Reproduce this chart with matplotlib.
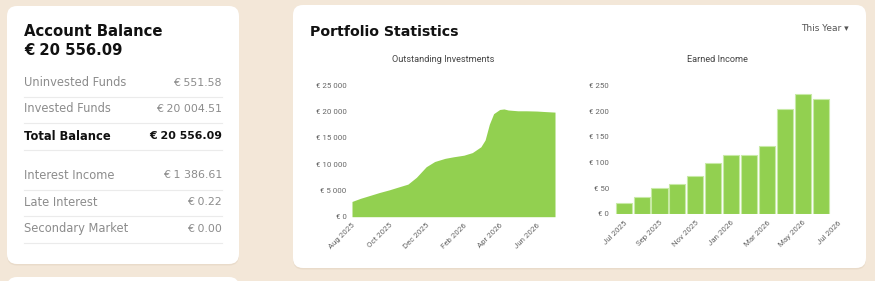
import matplotlib
matplotlib.use("Agg")
import matplotlib.pyplot as plt
import matplotlib.dates as mdates
from matplotlib.patches import FancyBboxPatch
import pandas as pd

# --- data ---
balance_title = "Account Balance"
balance_total = "€ 20 556.09"
row_labels = ["Uninvested Funds", "Invested Funds", "Total Balance",
              "Interest Income", "Late Interest", "Secondary Market"]
row_values = ["€ 551.58", "€ 20 004.51", "€ 20 556.09",
              "€ 1 386.61", "€ 0.22", "€ 0.00"]
row_bold = [False, False, True, False, False, False]

inv_dates = ["2025-08-01", "2025-08-15", "2025-09-01", "2025-09-15", "2025-10-01",
             "2025-10-15", "2025-11-01", "2025-11-15", "2025-12-01", "2025-12-15",
             "2026-01-01", "2026-01-15", "2026-02-01", "2026-02-15", "2026-03-01",
             "2026-03-08", "2026-03-15", "2026-03-22", "2026-04-01", "2026-04-08",
             "2026-04-15", "2026-05-01", "2026-05-15", "2026-06-01", "2026-06-15",
             "2026-07-01"]
inv_values = [2900, 3500, 4100, 4600, 5100,
              5600, 6200, 7500, 9500, 10500,
              11100, 11400, 11700, 12200, 13300,
              14600, 17600, 19600, 20400, 20500,
              20300, 20150, 20150, 20100, 20000,
              19900]
inv_ticks = ["2025-08-01", "2025-10-01", "2025-12-01", "2026-02-01", "2026-04-01", "2026-06-01"]
inv_yticks = [0, 5000, 10000, 15000, 20000, 25000]
inv_ylabels = ["€ 0", "€ 5 000", "€ 10 000", "€ 15 000", "€ 20 000", "€ 25 000"]

inc_months = ["Jul 2025", "Aug 2025", "Sep 2025", "Oct 2025", "Nov 2025", "Dec 2025",
              "Jan 2026", "Feb 2026", "Mar 2026", "Apr 2026", "May 2026", "Jun 2026"]
inc_values = [21, 33, 50, 58, 74, 100, 115, 115, 133, 203, 233, 223]
inc_tick_labels = ["Jul 2025", "Sep 2025", "Nov 2025", "Jan 2026", "Mar 2026", "May 2026", "Jul 2026"]
inc_yticks = [0, 50, 100, 150, 200, 250]
inc_ylabels = ["€ 0", "€ 50", "€ 100", "€ 150", "€ 200", "€ 250"]

W, H = 875, 281
GREEN = "#92d050"
EDGE = "#c8eaa6"
BG = "#f3e7d8"
TICK_COL = "#666666"

fig = plt.figure(figsize=(W / 100, H / 100), dpi=100)
fig.patch.set_facecolor(BG)

# background axes in pixel coordinates
bg = fig.add_axes([0, 0, 1, 1])
bg.set_xlim(0, W)
bg.set_ylim(H, 0)
bg.axis("off")

def card(x0, y0, x1, y1):
    sh = FancyBboxPatch((x0, y0 + 1.5), x1 - x0, y1 - y0, boxstyle="round,pad=0,rounding_size=10",
                        fc="#e3d4c1", ec="none", alpha=0.6, zorder=1)
    bg.add_patch(sh)
    p = FancyBboxPatch((x0, y0), x1 - x0, y1 - y0, boxstyle="round,pad=0,rounding_size=10",
                       fc="white", ec="none", zorder=2)
    bg.add_patch(p)

card(7, 6, 239, 264)
card(7, 277, 239, 320)
card(293, 5, 866, 268)

# left card text
bg.text(24, 32, balance_title, fontsize=10.7, fontweight="bold", color="#111111",
        va="center", ha="left", zorder=3)
bg.text(24, 50.5, balance_total, fontsize=10.7, fontweight="bold", color="#111111",
        va="center", ha="left", zorder=3)

row_y = [82.5, 109, 136, 175.5, 202, 228.5]
for lab, val, b, y in zip(row_labels, row_values, row_bold, row_y):
    col = "#111111" if b else "#8c8c8c"
    fw = "bold" if b else "normal"
    bg.text(24, y, lab, fontsize=8.3, color=col, fontweight=fw, va="center", ha="left", zorder=3)
    bg.text(222, y, val, fontsize=7.9, color=col, fontweight=fw, va="center", ha="right", zorder=3)
    bg.plot([24, 222], [y + 14, y + 14], color="#ebebeb", lw=0.8, zorder=3)

# right card header
bg.text(310, 32, "Portfolio Statistics", fontsize=10.2, fontweight="bold", color="#111111",
        va="center", ha="left", zorder=3)
bg.text(849, 28.5, "This Year ▾", fontsize=6.5, color="#555555", va="center", ha="right", zorder=3)

# chart titles
bg.text(443, 60, "Outstanding Investments", fontsize=6.6, color="#444444", family="Roboto",
        ha="center", va="center", zorder=3)
bg.text(717, 60, "Earned Income", fontsize=6.6, color="#444444", family="Roboto",
        ha="center", va="center", zorder=3)

def px_axes(x0, y0, x1, y1):
    return fig.add_axes([x0 / W, (H - y1) / H, (x1 - x0) / W, (y1 - y0) / H])

def style(ax):
    for s in ax.spines.values():
        s.set_visible(False)
    ax.set_facecolor("none")
    ax.tick_params(length=0, labelsize=5.7, colors=TICK_COL, pad=4)
    for t in ax.get_yticklabels() + ax.get_xticklabels():
        t.set_family("Roboto")

# Outstanding investments area
ax1 = px_axes(352, 85.3, 555, 216.7)
d = pd.to_datetime(inv_dates)
ax1.fill_between(d, 0, inv_values, color=GREEN, lw=0, zorder=2)
ax1.set_xlim(pd.Timestamp("2025-08-01"), pd.Timestamp("2026-07-01"))
ax1.set_ylim(0, 25000)
ax1.set_yticks(inv_yticks)
ax1.set_yticklabels(inv_ylabels)
ax1.set_xticks(pd.to_datetime(inv_ticks))
ax1.xaxis.set_major_formatter(mdates.DateFormatter("%b %Y"))
style(ax1)
for t in ax1.get_xticklabels():
    t.set_rotation(45)
    t.set_ha("right")
    t.set_rotation_mode("anchor")

# Earned income bars
ax2 = px_axes(614.8, 85.3, 838.5, 214)
x = list(range(len(inc_months)))
ax2.bar(x, inc_values, width=0.9, color=GREEN, edgecolor=EDGE, linewidth=0.8, zorder=2)
ax2.set_xlim(-0.5, 12)
ax2.set_ylim(0, 250)
ax2.set_yticks(inc_yticks)
ax2.set_yticklabels(inc_ylabels)
ax2.set_xticks(range(0, 13, 2))
ax2.set_xticklabels(inc_tick_labels)
style(ax2)
for t in ax2.get_xticklabels():
    t.set_rotation(45)
    t.set_ha("right")
    t.set_rotation_mode("anchor")

fig.savefig("out.png", dpi=100, facecolor=BG)
